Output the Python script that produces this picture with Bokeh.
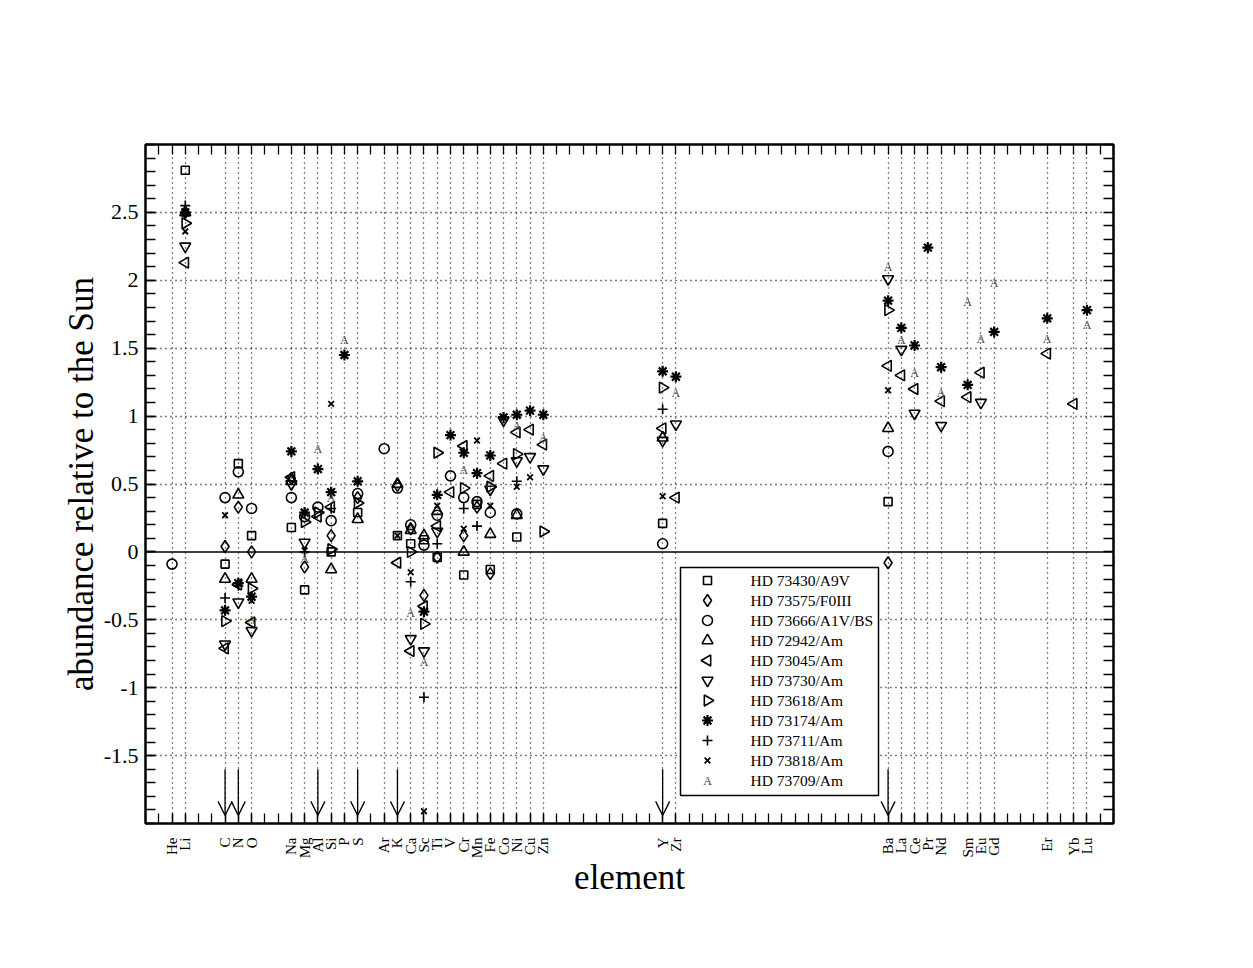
import math
from bokeh.plotting import figure
from bokeh.models import (FixedTicker, LinearAxis, Range1d, Span, Arrow, OpenHead, ColumnDataSource)
from bokeh.core.properties import value
from bokeh.embed import file_html
from bokeh.resources import INLINE

# ---------------- data ----------------
elements = ["He", "Li", "C", "N", "O", "Na", "Mg", "Al", "Si", "P", "S", "Ar", "K", "Ca", "Sc",
            "Ti", "V", "Cr", "Mn", "Fe", "Co", "Ni", "Cu", "Zn", "Y", "Zr", "Ba", "La", "Ce",
            "Pr", "Nd", "Sm", "Eu", "Gd", "Er", "Yb", "Lu"]
atomic_numbers = [2, 3, 6, 7, 8, 11, 12, 13, 14, 15, 16, 18, 19, 20, 21,
                  22, 23, 24, 25, 26, 27, 28, 29, 30, 39, 40, 56, 57, 58,
                  59, 60, 62, 63, 64, 68, 70, 71]
Z = dict(zip(elements, atomic_numbers))

y_tick_values = [-1.5, -1, -0.5, 0, 0.5, 1, 1.5, 2, 2.5]
y_tick_labels = ["-1.5", "-1", "-0.5", "0", "0.5", "1", "1.5", "2", "2.5"]

# upper-limit arrows
arrow_elements = ["C", "N", "Al", "S", "K", "Y", "Ba"]
arrow_top = -1.60
arrow_bottom = -1.94

hd73430_el = ["Li", "C", "N", "O", "Na", "Mg", "Si", "S", "K", "Ca", "Sc", "Ti", "Cr", "Mn", "Fe", "Ni", "Y", "Ba"]
hd73430_val = [2.81, -0.09, 0.65, 0.12, 0.18, -0.28, 0.00, 0.29, 0.12, 0.06, 0.09, -0.04, -0.17, 0.35, -0.13, 0.11, 0.21, 0.37]

hd73575_el = ["Li", "C", "N", "O", "Na", "Mg", "Si", "S", "K", "Ca", "Sc", "Ti", "Cr", "Mn", "Fe", "Ba"]
hd73575_val = [2.50, 0.04, 0.33, 0.00, 0.54, -0.11, 0.12, 0.40, 0.49, 0.17, -0.32, -0.04, 0.12, 0.33, -0.16, -0.08]

hd73666_el = ["He", "C", "N", "O", "Na", "Mg", "Al", "Si", "S", "Ar", "K", "Ca", "Sc", "Ti", "V", "Cr", "Mn", "Fe", "Ni", "Y", "Ba"]
hd73666_val = [-0.09, 0.40, 0.59, 0.32, 0.40, 0.26, 0.33, 0.23, 0.43, 0.76, 0.47, 0.20, 0.05, 0.27, 0.56, 0.40, 0.37, 0.29, 0.28, 0.06, 0.74]

hd72942_el = ["Li", "C", "N", "O", "Na", "Si", "S", "K", "Ca", "Sc", "Ti", "Cr", "Fe", "Ni", "Y", "Ba"]
hd72942_val = [2.50, -0.20, 0.42, -0.20, 0.52, -0.13, 0.24, 0.50, 0.16, 0.12, 0.30, 0.00, 0.13, 0.27, 0.84, 0.91]

hd73045_el = ["Li", "C", "N", "O", "Na", "Al", "Si", "K", "Ca", "Sc", "Ti", "V", "Cr", "Fe", "Co", "Ni", "Cu", "Zn",
              "Y", "Zr", "Ba", "La", "Ce", "Nd", "Sm", "Eu", "Er", "Yb"]
hd73045_val = [2.13, -0.71, -0.24, -0.52, 0.55, 0.26, 0.33, -0.08, -0.73, -0.40, 0.19, 0.44, 0.78, 0.56, 0.65, 0.88, 0.90, 0.79,
               0.91, 0.40, 1.37, 1.30, 1.20, 1.11, 1.14, 1.32, 1.46, 1.09]

hd73730_el = ["Li", "C", "N", "O", "Na", "Mg", "Ca", "Sc", "Ti", "Fe", "Co", "Ni", "Cu", "Zn", "Y", "Zr", "Ba", "La", "Ce", "Nd", "Eu"]
hd73730_val = [2.25, -0.68, -0.37, -0.58, 0.50, 0.07, -0.64, -0.73, 0.15, 0.46, 0.97, 0.67, 0.70, 0.61, 0.82, 0.94, 2.01, 1.49, 1.02, 0.93, 1.10]

hd73618_el = ["Li", "C", "O", "Mg", "Al", "Si", "S", "Ca", "Sc", "Ti", "Cr", "Fe", "Ni", "Zn", "Y", "Ba"]
hd73618_val = [2.42, -0.51, -0.27, 0.22, 0.29, 0.02, 0.36, 0.00, -0.53, 0.73, 0.47, 0.48, 0.72, 0.15, 1.21, 1.78]

hd73174_el = ["Li", "C", "N", "O", "Na", "Mg", "Al", "Si", "P", "S", "Sc", "Ti", "V", "Cr", "Mn", "Fe", "Co", "Ni", "Cu", "Zn",
              "Y", "Zr", "Ba", "La", "Ce", "Pr", "Nd", "Sm", "Gd", "Er", "Lu"]
hd73174_val = [2.50, -0.43, -0.23, -0.33, 0.74, 0.29, 0.61, 0.44, 1.45, 0.52, -0.44, 0.42, 0.86, 0.73, 0.58, 0.71, 0.99, 1.01, 1.04, 1.01,
               1.33, 1.29, 1.85, 1.65, 1.52, 2.24, 1.36, 1.23, 1.62, 1.72, 1.78]

hd73711_el = ["Li", "C", "N", "Mg", "Si", "Ca", "Sc", "Ti", "Cr", "Mn", "Ni", "Y"]
hd73711_val = [2.55, -0.34, -0.25, 0.00, 0.32, -0.22, -1.07, 0.06, 0.32, 0.19, 0.52, 1.05]

hd73818_el = ["Li", "C", "O", "Mg", "Si", "K", "Ca", "Sc", "Ti", "Cr", "Mn", "Fe", "Ni", "Cu", "Y", "Ba"]
hd73818_val = [2.36, 0.27, -0.36, 0.01, 1.09, 0.12, -0.15, -1.91, 0.34, 0.17, 0.82, 0.34, 0.48, 0.55, 0.41, 1.19]

hd73709_el = ["O", "Mg", "Al", "Si", "P", "Ca", "Sc", "Cr", "Fe", "Ni", "Zn", "Zr", "Ba", "La", "Ce", "Nd", "Sm", "Eu", "Gd", "Er", "Lu"]
hd73709_val = [-0.50, -0.05, 0.76, 0.40, 1.56, -0.45, -0.81, 0.60, 0.51, 0.93, 0.84, 1.17, 2.10, 1.56, 1.32, 1.17, 1.84, 1.57, 1.98, 1.57, 1.67]

series_names = ["HD 73430/A9V", "HD 73575/F0III", "HD 73666/A1V/BS", "HD 72942/Am", "HD 73045/Am",
                "HD 73730/Am", "HD 73618/Am", "HD 73174/Am", "HD 73711/Am", "HD 73818/Am", "HD 73709/Am"]
series_els = [hd73430_el, hd73575_el, hd73666_el, hd72942_el, hd73045_el, hd73730_el,
              hd73618_el, hd73174_el, hd73711_el, hd73818_el, hd73709_el]
series_vals = [hd73430_val, hd73575_val, hd73666_val, hd72942_val, hd73045_val, hd73730_val,
               hd73618_val, hd73174_val, hd73711_val, hd73818_val, hd73709_val]
series_kinds = ["square", "diamond", "circle", "tri_up", "tri_left", "tri_down",
                "tri_right", "star", "plus", "x", "letterA"]

# ---------------- figure ----------------
SERIF = "Liberation Serif"
FRAME_L, FRAME_T, FRAME_W, FRAME_H = 145, 144, 968, 679
W, H = 1240, 950
X0, X1, Y0, Y1 = 0, 73, -2, 3
p = figure(width=W, height=H, output_backend="svg", toolbar_location=None,
           x_range=Range1d(X0, X1), y_range=Range1d(Y0, Y1),
           min_border_left=FRAME_L, min_border_top=FRAME_T,
           min_border_right=W - FRAME_L - FRAME_W, min_border_bottom=H - FRAME_T - FRAME_H,
           background_fill_color="white", border_fill_color="white")
p.outline_line_color = "black"
p.outline_line_width = 2

x_minor = list(range(0, 74))
y_minor = [round(-2 + 0.1 * i, 1) for i in range(51)]
x_ticker = FixedTicker(ticks=atomic_numbers, minor_ticks=x_minor)
y_ticker = FixedTicker(ticks=y_tick_values, minor_ticks=y_minor)

# grids
p.xgrid.ticker = FixedTicker(ticks=atomic_numbers)
p.ygrid.ticker = FixedTicker(ticks=[v for v in y_tick_values if v != 0])
for g in (p.xgrid[0], p.ygrid[0]):
    g.grid_line_color = "black"
    g.grid_line_dash = "1 4"
    g.grid_line_width = 1.3
    g.grid_line_alpha = 1.0

p.add_layout(Span(location=0, dimension="width", line_color="black", line_width=1.5))

def style_axis(ax):
    ax.axis_line_color = "black"
    ax.axis_line_width = 2
    ax.major_tick_in = 10
    ax.major_tick_out = 0
    ax.minor_tick_in = 10
    ax.minor_tick_out = 0
    ax.major_tick_line_color = "black"
    ax.minor_tick_line_color = "black"
    ax.major_tick_line_width = 1.3
    ax.minor_tick_line_width = 1.3

xb = p.xaxis[0]
xb.ticker = x_ticker
style_axis(xb)
xb.major_label_overrides = {z: e for z, e in zip(atomic_numbers, elements)}
xb.major_label_orientation = math.pi / 2
xb.major_label_text_font = SERIF
xb.major_label_text_font_size = "15px"
xb.major_label_text_color = "black"
xb.major_label_standoff = 14
xb.axis_label = "element"
xb.axis_label_text_font = SERIF
xb.axis_label_text_font_size = "35px"
xb.axis_label_text_font_style = "normal"
xb.axis_label_text_color = "black"
xb.axis_label_standoff = -3

yl = p.yaxis[0]
yl.ticker = y_ticker
style_axis(yl)
yl.major_label_overrides = {v: s for v, s in zip(y_tick_values, y_tick_labels)}
yl.major_label_text_font = SERIF
yl.major_label_text_font_size = "22px"
yl.major_label_text_color = "black"
yl.major_label_standoff = 7
yl.axis_label = "abundance relative to the Sun"
yl.axis_label_text_font = SERIF
yl.axis_label_text_font_size = "35px"
yl.axis_label_text_font_style = "normal"
yl.axis_label_text_color = "black"
yl.axis_label_standoff = 0

# top and right axes: ticks only
xt = LinearAxis(ticker=FixedTicker(ticks=[], minor_ticks=x_minor))
style_axis(xt)
p.add_layout(xt, "above")
yr = LinearAxis(ticker=FixedTicker(ticks=[], minor_ticks=y_minor))
style_axis(yr)
p.add_layout(yr, "right")


def draw_marker(kind, xs, ys):
    src = ColumnDataSource(dict(x=xs, y=ys))
    n = len(xs)
    common = dict(source=src, line_color="black", line_width=1.6)
    if kind == "square":
        return p.scatter("x", "y", marker="square", size=8, fill_color=None, **common)
    if kind == "diamond":
        return p.scatter("x", "y", marker="diamond", size=12, fill_color=None, **common)
    if kind == "circle":
        return p.scatter("x", "y", marker="circle", size=10, fill_color=None, **common)
    if kind == "tri_up":
        return p.scatter("x", "y", marker="triangle", size=11, fill_color=None, **common)
    if kind == "tri_down":
        return p.scatter("x", "y", marker="inverted_triangle", size=11, fill_color=None, **common)
    if kind == "tri_left":
        return p.scatter("x", "y", marker="triangle", angle=math.pi / 2, size=11, fill_color=None, **common)
    if kind == "tri_right":
        return p.scatter("x", "y", marker="triangle", angle=-math.pi / 2, size=11, fill_color=None, **common)
    if kind == "star":
        return p.scatter("x", "y", marker="asterisk", size=11, source=src, line_color="black", line_width=2.2)
    if kind == "plus":
        return p.scatter("x", "y", marker="cross", size=10, **common)
    if kind == "x":
        return p.scatter("x", "y", marker="x", size=8, source=src, line_color="black", line_width=1.8)
    src.data["t"] = ["A"] * n
    return p.text("x", "y", text="t", source=src, text_font=value(SERIF), text_font_size="12px",
                  text_color="#444444", text_align="center", text_baseline="middle")


# ---------------- data marks ----------------
for name, els, vals, kind in zip(series_names, series_els, series_vals, series_kinds):
    draw_marker(kind, [Z[e] for e in els], vals)

for e in arrow_elements:
    p.add_layout(Arrow(end=OpenHead(size=14, line_width=1.3, line_color="black"),
                       x_start=Z[e], y_start=arrow_top, x_end=Z[e], y_end=arrow_bottom,
                       line_color="black", line_width=1.3))

# ---------------- legend (box, symbols, labels placed in pixels inside the frame) ----------------
def px_to_x(sx):
    return X0 + sx * (X1 - X0) / FRAME_W

def px_to_y(sy_from_top):
    return Y1 - sy_from_top * (Y1 - Y0) / FRAME_H

LEG_L, LEG_R, LEG_T, LEG_B = 535, 733, 423, 651      # pixels from frame left / top
ROW0, ROW_STEP, SYM_X, TXT_X = 436, 20, 562, 605
p.quad(left=[px_to_x(LEG_L)], right=[px_to_x(LEG_R)], top=[px_to_y(LEG_T)], bottom=[px_to_y(LEG_B)],
       fill_color="white", line_color="black", line_width=1.5)
for i, kind in enumerate(series_kinds):
    draw_marker(kind, [px_to_x(SYM_X)], [px_to_y(ROW0 + i * ROW_STEP)])
p.text(x=[px_to_x(TXT_X)] * len(series_names),
       y=[px_to_y(ROW0 + i * ROW_STEP) for i in range(len(series_names))],
       text=series_names, text_font=value(SERIF), text_font_size="15.5px", text_color="black",
       text_align="left", text_baseline="middle")

open("out.html", "w").write(file_html(p, INLINE))
